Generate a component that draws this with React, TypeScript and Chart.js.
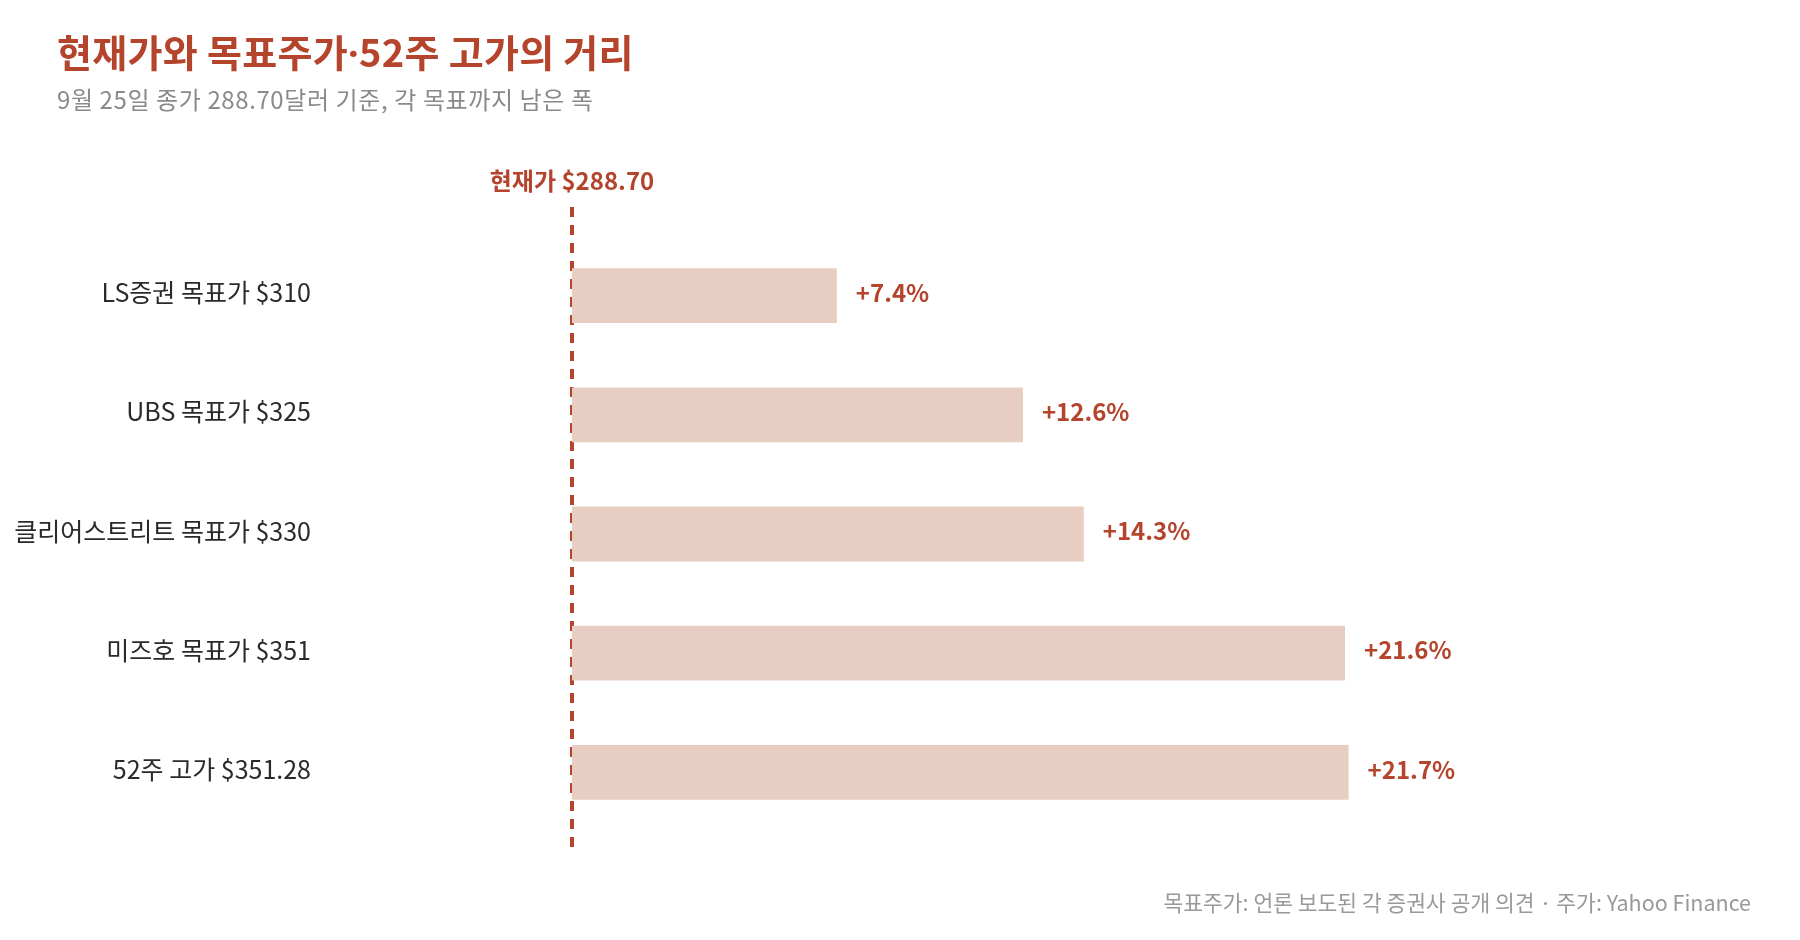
import { useEffect, useRef } from "react";
import { Chart, registerables } from "chart.js";

Chart.register(...registerables);

// 대상 항목과 현재가 대비 상승 여력(%)
const categories = [
  "LS증권 목표가 $310",
  "UBS 목표가 $325",
  "클리어스트리트 목표가 $330",
  "미즈호 목표가 $351",
  "52주 고가 $351.28",
];
const upsidePct = [7.4, 12.6, 14.3, 21.6, 21.7];
const currentLabel = "현재가 $288.70";

const RED = "#b5442d";
const BAR = "#e8cec2";
const FONT = '"Noto Sans CJK KR", "Noto Sans", sans-serif';

const annotations = {
  id: "annotations",
  beforeDatasetsDraw(chart: Chart) {
    const { ctx, chartArea } = chart;
    const x = chart.scales.x.getPixelForValue(0);
    ctx.save();
    ctx.strokeStyle = RED;
    ctx.lineWidth = 4;
    ctx.setLineDash([10, 8]);
    ctx.beginPath();
    ctx.moveTo(x, chartArea.top - 29);
    ctx.lineTo(x, chartArea.bottom + 16);
    ctx.stroke();
    ctx.restore();
  },
  afterDatasetsDraw(chart: Chart) {
    const { ctx, chartArea } = chart;
    const x0 = chart.scales.x.getPixelForValue(0);
    ctx.save();
    ctx.fillStyle = RED;
    ctx.font = `bold 24px ${FONT}`;
    ctx.textAlign = "center";
    ctx.textBaseline = "alphabetic";
    ctx.fillText(currentLabel, x0, chartArea.top - 46);

    ctx.textAlign = "left";
    ctx.textBaseline = "middle";
    const meta = chart.getDatasetMeta(0);
    meta.data.forEach((bar: any, i: number) => {
      ctx.fillText(`+${upsidePct[i].toFixed(1)}%`, bar.x + 19, bar.y - 3);
    });
    ctx.restore();
  },
};

export default function App() {
  const canvasRef = useRef<HTMLCanvasElement | null>(null);

  useEffect(() => {
    if (!canvasRef.current) return;
    const chart = new Chart(canvasRef.current, {
      type: "bar",
      data: {
        labels: categories,
        datasets: [
          {
            data: upsidePct,
            backgroundColor: BAR,
            borderWidth: 0,
            barPercentage: 0.46,
            categoryPercentage: 1,
          },
        ],
      },
      options: {
        indexAxis: "y",
        animation: false,
        responsive: false,
        layout: { padding: { top: 236, bottom: 108, left: 0, right: 47 } },
        plugins: {
          legend: { display: false },
          tooltip: { enabled: false },
        },
        scales: {
          x: { type: "linear", min: 0, max: 33, display: false },
          y: {
            type: "category",
            // tick marks are not drawn; tickLength only pushes labels left
            grid: { display: false, drawTicks: true, tickLength: 261 },
            border: { display: false },
            ticks: {
              padding: 0,
              labelOffset: -3,
              color: "#2a2a2a",
              font: { family: FONT, size: 25 },
            },
            afterFit(axis: any) {
              axis.width = 572;
            },
          },
        },
      },
      plugins: [annotations],
    });
    return () => chart.destroy();
  }, []);

  return (
    <div
      style={{
        position: "absolute",
        left: 0,
        top: 0,
        width: 1800,
        height: 940,
        background: "#fff",
        fontFamily: FONT,
      }}
    >
      <canvas
        ref={canvasRef}
        width={1800}
        height={940}
        style={{ position: "absolute", left: 0, top: 0, display: "block" }}
      />
      <div
        style={{
          position: "absolute",
          left: 57,
          top: 32,
          fontSize: 38,
          lineHeight: "38px",
          fontWeight: 700,
          letterSpacing: "0.3px",
          color: RED,
          whiteSpace: "nowrap",
        }}
      >
        현재가와 목표주가<span style={{ fontFamily: '"Noto Sans", sans-serif' }}>·</span>52주 고가의 거리
      </div>
      <div
        style={{
          position: "absolute",
          left: 57,
          top: 87,
          fontSize: 24,
          lineHeight: "24px",
          letterSpacing: "0.6px",
          color: "#8a8a8a",
          whiteSpace: "nowrap",
        }}
      >
        9월 25일 종가 288.70달러 기준, 각 목표까지 남은 폭
      </div>
      <div
        style={{
          position: "absolute",
          right: 49,
          top: 891,
          fontSize: 21.5,
          lineHeight: "21.5px",
          color: "#999",
          whiteSpace: "nowrap",
        }}
      >
        목표주가: 언론 보도된 각 증권사 공개 의견 · 주가: Yahoo Finance
      </div>
    </div>
  );
}
